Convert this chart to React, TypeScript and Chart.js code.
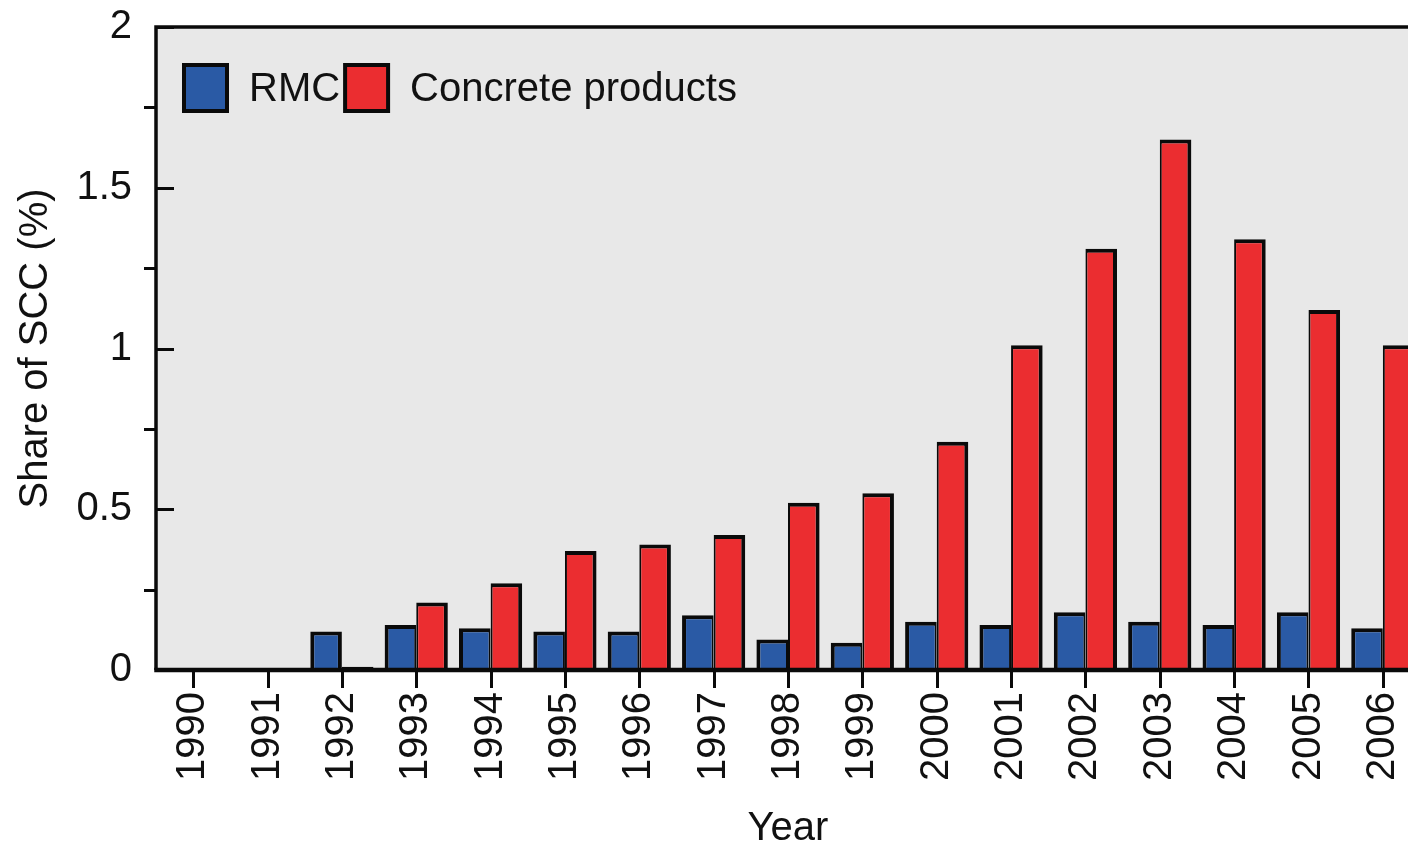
import React, { useEffect, useRef } from "react";
import { Chart, registerables } from "chart.js";

Chart.register(...registerables);

// Share of self-compacting concrete by year
const years = [
  "1990", "1991", "1992", "1993", "1994", "1995", "1996", "1997", "1998",
  "1999", "2000", "2001", "2002", "2003", "2004", "2005", "2006",
];
const rmcShare = [
  0, 0, 0.12, 0.14, 0.13, 0.12, 0.12, 0.17, 0.095, 0.085, 0.15, 0.14, 0.18,
  0.15, 0.14, 0.18, 0.13,
];
const concreteProductsShare = [
  0, 0, 0.01, 0.21, 0.27, 0.37, 0.39, 0.42, 0.52, 0.55, 0.71, 1.01, 1.31,
  1.65, 1.34, 1.12, 1.01,
];
const seriesLabels = ["RMC", "Concrete products"];
const seriesColors = ["#2a5aa5", "#eb2d30"];
const yRange = [0, 2];
const yMajorStep = 0.5;
const yMinorTicks = [0.25, 0.75, 1.25, 1.75];
const yAxisTitle = "Share of SCC (%)";
const xAxisTitle = "Year";

const FONT = "'Liberation Sans', Arial, Helvetica, sans-serif";
const INK = "#0a0a0a";
const PANEL = "#e8e8e8";
const CANVAS_W = 1424;
const CANVAS_H = 844;
const EDGE = 4;
const JOIN = 2;

// Grey panel, black frame, tick marks and the in-panel legend
const framePlugin = {
  id: "frame",
  beforeDraw(chart: any) {
    const { ctx, chartArea: a } = chart;
    ctx.save();
    ctx.fillStyle = PANEL;
    ctx.fillRect(a.left, a.top, a.right - a.left, a.bottom - a.top);
    ctx.restore();
  },
  afterDraw(chart: any) {
    const { ctx, chartArea: a, scales } = chart;
    const xs = scales.x;
    const ys = scales.y;
    ctx.save();
    ctx.strokeStyle = INK;
    ctx.lineCap = "butt";

    // frame
    ctx.lineWidth = 3.5;
    ctx.beginPath();
    ctx.moveTo(a.left, a.bottom);
    ctx.lineTo(a.left, a.top);
    ctx.lineTo(a.right, a.top);
    ctx.lineTo(a.right, a.bottom);
    ctx.stroke();
    ctx.lineWidth = 4.5;
    ctx.beginPath();
    ctx.moveTo(a.left - 1.75, a.bottom);
    ctx.lineTo(a.right + 1.75, a.bottom);
    ctx.stroke();

    // x tick marks (outward)
    ctx.lineWidth = 3;
    ctx.beginPath();
    years.forEach((_, i) => {
      const px = Math.round(xs.getPixelForTick(i)) + 0.5;
      ctx.moveTo(px, a.bottom + 2);
      ctx.lineTo(px, a.bottom + 18);
    });
    ctx.stroke();

    // y major ticks (inward) and minor ticks (outward)
    ctx.beginPath();
    ys.ticks.forEach((t: any) => {
      const py = Math.round(ys.getPixelForValue(t.value)) + 0.5;
      ctx.moveTo(a.left, py);
      ctx.lineTo(a.left + 18, py);
    });
    yMinorTicks.forEach((v) => {
      const py = Math.round(ys.getPixelForValue(v)) + 0.5;
      ctx.moveTo(a.left - 12, py);
      ctx.lineTo(a.left, py);
    });
    ctx.stroke();

    // legend
    const boxW = 47;
    const boxH = 50;
    const border = 4;
    const boxTop = a.top + 36;
    let cx = a.left + 26;
    ctx.font = `40px ${FONT}`;
    ctx.textBaseline = "middle";
    ctx.textAlign = "left";
    chart.data.datasets.forEach((ds: any, i: number) => {
      ctx.fillStyle = INK;
      ctx.fillRect(cx, boxTop, boxW, boxH);
      ctx.fillStyle = ds.backgroundColor;
      ctx.fillRect(cx + border, boxTop + border, boxW - 2 * border, boxH - 2 * border);
      const tx = cx + boxW + 20;
      ctx.fillStyle = "#111";
      ctx.fillText(ds.label, tx, boxTop + boxH / 2 + 2);
      const w = ctx.measureText(ds.label).width;
      cx = tx + w + (i === 0 ? 3 : 24);
    });
    ctx.restore();
  },
};

export default function App() {
  const canvasRef = useRef<HTMLCanvasElement | null>(null);

  useEffect(() => {
    if (!canvasRef.current) return;
    Chart.defaults.font.family = FONT;
    Chart.defaults.color = "#111";

    const chart = new Chart(canvasRef.current, {
      type: "bar",
      data: {
        labels: years,
        datasets: [
          {
            label: seriesLabels[0],
            data: rmcShare,
            backgroundColor: seriesColors[0],
            borderColor: INK,
            borderWidth: (c: any) => {
              const i = c.dataIndex;
              const taller = rmcShare[i] > concreteProductsShare[i];
              return { top: EDGE, left: EDGE, right: taller ? EDGE : JOIN, bottom: 0 };
            },
            borderSkipped: "start",
          },
          {
            label: seriesLabels[1],
            data: concreteProductsShare,
            backgroundColor: seriesColors[1],
            borderColor: INK,
            borderWidth: (c: any) => {
              const i = c.dataIndex;
              const taller = concreteProductsShare[i] >= rmcShare[i];
              return { top: EDGE, left: taller ? JOIN : 0, right: EDGE, bottom: 0 };
            },
            borderSkipped: "start",
          },
        ],
      },
      options: {
        responsive: false,
        maintainAspectRatio: false,
        animation: false,
        layout: { padding: { top: 27, left: 0, right: 4, bottom: 0 } },
        plugins: {
          legend: { display: false },
          tooltip: { enabled: false },
          title: { display: false },
        },
        datasets: {
          bar: { categoryPercentage: 0.85, barPercentage: 1 },
        },
        scales: {
          x: {
            type: "category",
            grid: { display: false, drawTicks: false },
            border: { display: false },
            ticks: {
              autoSkip: false,
              maxRotation: 90,
              minRotation: 90,
              padding: 22,
              color: "#111",
              font: { size: 40, family: FONT },
            },
            title: {
              display: true,
              text: xAxisTitle,
              color: "#111",
              font: { size: 40, family: FONT, lineHeight: 1 },
              padding: { top: 0, bottom: -5 },
            },
            afterFit: (scale: any) => {
              scale.height = 174;
              scale.paddingLeft = 0;
              scale.paddingRight = 0;
            },
          },
          y: {
            min: yRange[0],
            max: yRange[1],
            grid: { display: false, drawTicks: false },
            border: { display: false },
            ticks: {
              stepSize: yMajorStep,
              padding: 24,
              color: "#111",
              font: { size: 40, family: FONT },
              callback: (v: any) => String(Number(v)),
            },
            title: {
              display: true,
              text: yAxisTitle,
              color: "#111",
              font: { size: 40, family: FONT, lineHeight: 1.2 },
              padding: { top: 12, bottom: 0 },
            },
            afterFit: (scale: any) => {
              scale.width = 156;
              scale.paddingTop = 0;
              scale.paddingBottom = 0;
            },
          },
        },
      },
      plugins: [framePlugin],
    } as any);

    return () => chart.destroy();
  }, []);

  return (
    <div
      style={{
        position: "fixed",
        left: 0,
        top: 0,
        width: 1408,
        height: 844,
        overflow: "hidden",
        background: "#fff",
      }}
    >
      <canvas
        ref={canvasRef}
        width={CANVAS_W}
        height={CANVAS_H}
        style={{ display: "block", width: CANVAS_W, height: CANVAS_H }}
      />
    </div>
  );
}
